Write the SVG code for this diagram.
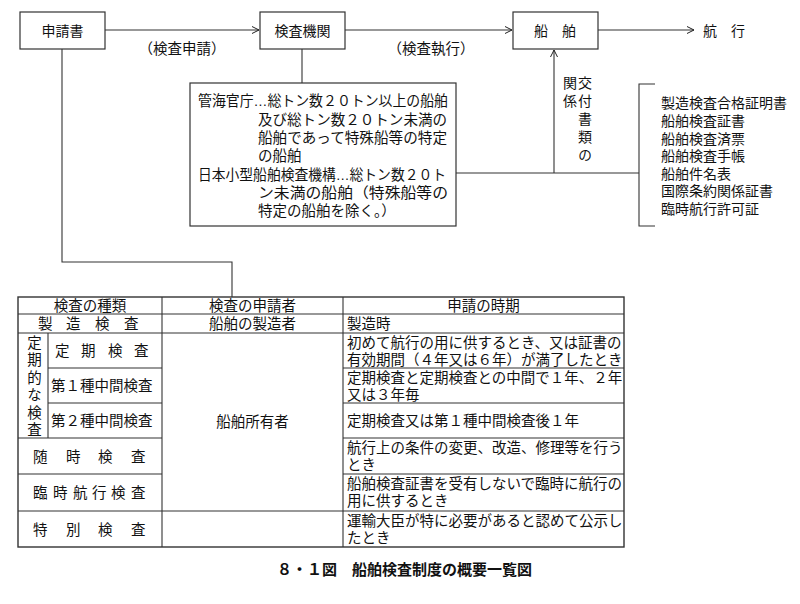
<svg xmlns="http://www.w3.org/2000/svg" width="800" height="604" viewBox="0 0 800 604">
<defs>
<marker id="arr" markerUnits="userSpaceOnUse" markerWidth="9" markerHeight="9" refX="7" refY="3.5" orient="auto" overflow="visible">
<path d="M0,0 L7,3.5 L0,7" fill="none" stroke="#222" stroke-width="1"/>
</marker>
<style>
text{font-family:"Liberation Sans","Noto Sans CJK JP","Noto Sans CJK SC",sans-serif;font-size:14.5px;fill:#111}
.box{fill:#fff;stroke:#333;stroke-width:1.2}
.ln{fill:none;stroke:#333;stroke-width:1.1}
.c{text-anchor:middle}
.s14{font-size:14px}
.vt{writing-mode:vertical-rl;font-size:14px;letter-spacing:4px}
.cap{font-size:15px;font-weight:bold}
</style>
</defs>
<rect width="800" height="604" fill="#fff"/>

<g id="connectors">
<line class="ln" x1="105" y1="30" x2="259" y2="30" marker-end="url(#arr)"/>
<line class="ln" x1="345" y1="30" x2="512" y2="30" marker-end="url(#arr)"/>
<line class="ln" x1="598" y1="30" x2="694" y2="30" marker-end="url(#arr)"/>
<line class="ln" x1="302" y1="49" x2="302" y2="83"/>
<line class="ln" x1="456" y1="173" x2="639" y2="173"/>
<line class="ln" x1="554" y1="173" x2="554" y2="50" marker-end="url(#arr)"/>
<polyline class="ln" points="62,49 62,262 232,262 232,297"/>
<text x="182" y="54" class="c">（検査申請）</text>
<text x="431" y="54" class="c">（検査執行）</text>
</g>

<g id="n-shinseisho">
<rect class="box" x="20" y="12" width="85" height="37"/>
<text x="62.5" y="35.5" class="c s14">申請書</text>
</g>
<g id="n-kensakikan">
<rect class="box" x="260" y="12" width="85" height="37"/>
<text x="302.5" y="35.5" class="c s14">検査機関</text>
</g>
<g id="n-senpaku">
<rect class="box" x="513" y="12" width="85" height="37"/>
<text x="555" y="35.5" class="c s14">船　舶</text>
</g>
<g id="n-kouko">
<text x="703" y="35.5" class="s14">航　行</text>
</g>

<g id="n-kanchou">
<rect class="box" x="190" y="83" width="266" height="143"/>
<text><tspan x="198" y="106" textLength="250" lengthAdjust="spacingAndGlyphs">管海官庁…総トン数２０トン以上の船舶</tspan><tspan x="258" y="124.5" textLength="189" lengthAdjust="spacingAndGlyphs">及び総トン数２０トン未満の</tspan><tspan x="258" y="143" textLength="189" lengthAdjust="spacingAndGlyphs">船舶であって特殊船等の特定</tspan><tspan x="258" y="161">の船舶</tspan></text>
<text><tspan x="198" y="179.5" textLength="248" lengthAdjust="spacingAndGlyphs">日本小型船舶検査機構…総トン数２０ト</tspan><tspan x="258" y="197.5" textLength="190" lengthAdjust="spacingAndGlyphs">ン未満の船舶（特殊船等の</tspan><tspan x="258" y="216">特定の船舶を除く。）</tspan></text>
</g>

<g id="n-koufu">
<text x="569" y="76" class="vt">関係</text>
<text x="584" y="76" class="vt">交付書類の</text>
</g>

<g id="n-docs">
<polyline class="ln" points="655,84 639,84 639,226 655,226"/>
<text class="s14"><tspan x="661" y="108">製造検査合格証明書</tspan><tspan x="661" y="126">船舶検査証書</tspan><tspan x="661" y="143.5">船舶検査済票</tspan><tspan x="661" y="161">船舶検査手帳</tspan><tspan x="661" y="178.5">船舶件名表</tspan><tspan x="661" y="196">国際条約関係証書</tspan><tspan x="661" y="213.5">臨時航行許可証</tspan></text>
</g>

<g id="n-table">
<rect class="box" x="18" y="297" width="606" height="250" style="stroke-width:1.4"/>
<line class="ln" x1="162" y1="297" x2="162" y2="547"/>
<line class="ln" x1="343" y1="297" x2="343" y2="547"/>
<line class="ln" x1="48" y1="333" x2="48" y2="438"/>
<line class="ln" x1="18" y1="314" x2="624" y2="314"/>
<line class="ln" x1="18" y1="333" x2="624" y2="333"/>
<line class="ln" x1="48" y1="368" x2="162" y2="368"/>
<line class="ln" x1="343" y1="368" x2="624" y2="368"/>
<line class="ln" x1="48" y1="403" x2="162" y2="403"/>
<line class="ln" x1="343" y1="403" x2="624" y2="403"/>
<line class="ln" x1="18" y1="438" x2="162" y2="438"/>
<line class="ln" x1="343" y1="438" x2="624" y2="438"/>
<line class="ln" x1="18" y1="474" x2="162" y2="474"/>
<line class="ln" x1="343" y1="474" x2="624" y2="474"/>
<line class="ln" x1="18" y1="511" x2="624" y2="511"/>

<text x="90" y="311" class="c">検査の種類</text>
<text x="252.5" y="311" class="c">検査の申請者</text>
<text x="483.5" y="311" class="c">申請の時期</text>

<text x="38 66 95 124" y="329">製造検査</text>
<text x="252.5" y="329" class="c">船舶の製造者</text>
<text x="347" y="329">製造時</text>

<text x="33" y="335" class="vt" style="font-size:14.5px;letter-spacing:3px">定期的な検査</text>

<text x="55 81 108 134" y="356">定期検査</text>
<text x="51" y="391">第１種中間検査</text>
<text x="51" y="426">第２種中間検査</text>
<text x="33 66 98 131" y="461.5">随時検査</text>
<text x="33 53 73 92 111 131" y="498">臨時航行検査</text>
<text x="33 66 98 131" y="534.5">特別検査</text>

<text x="252.5" y="427" class="c">船舶所有者</text>

<text><tspan x="347" y="347.5">初めて航行の用に供するとき、又は証書の</tspan><tspan x="347" y="365">有効期間（４年又は６年）が満了したとき</tspan></text>
<text><tspan x="347" y="382.5">定期検査と定期検査との中間で１年、２年</tspan><tspan x="347" y="400">又は３年毎</tspan></text>
<text x="347" y="426">定期検査又は第１種中間検査後１年</text>
<text><tspan x="347" y="452.5">航行上の条件の変更、改造、修理等を行う</tspan><tspan x="347" y="470">とき</tspan></text>
<text><tspan x="347" y="488.5">船舶検査証書を受有しないで臨時に航行の</tspan><tspan x="347" y="506">用に供するとき</tspan></text>
<text><tspan x="347" y="525.5">運輸大臣が特に必要があると認めて公示し</tspan><tspan x="347" y="543">たとき</tspan></text>
</g>

<text x="277" y="575" class="cap">８・１図　船舶検査制度の概要一覧図</text>
</svg>
